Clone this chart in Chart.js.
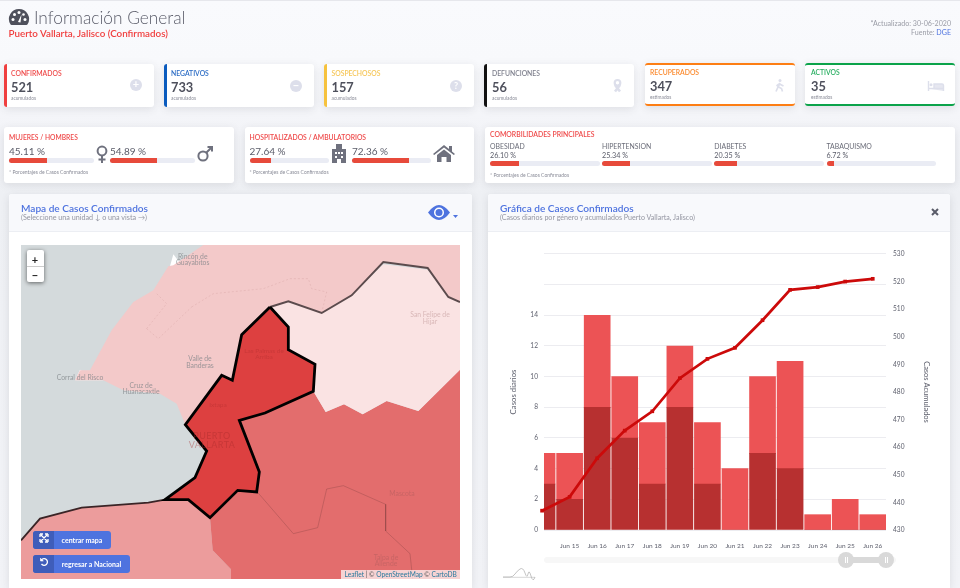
<!DOCTYPE html>
<html lang="es"><head><meta charset="utf-8">
<script src="https://cdn.jsdelivr.net/npm/chart.js@4"></script>
<style>
html,body{margin:0;padding:0;width:960px;height:588px;overflow:hidden}
body{position:relative;background:linear-gradient(#f9fafd 0,#f8f9fc 60px,#f3f4f8 130px,#eef0f4 195px,#f2f3f7 588px);font-family:Lato,"Noto Sans",sans-serif;color:#5a5c69;filter:blur(.3px)}
.t{position:absolute;white-space:nowrap;line-height:1;transform:translateY(-50%)}
.b{position:absolute;box-sizing:border-box}
.card{background:#fff;border-radius:3px;box-shadow:0 2px 9px rgba(58,59,69,.12)}
svg{position:absolute;overflow:visible}
canvas{position:absolute;display:block}
</style></head><body>
<div class="b" style="left:0;top:0;width:960px;height:1px;background:#e6e7ec"></div>
<canvas id="mapChart" width="439" height="334" style="left:21px;top:245px;width:439px;height:334px;z-index:2"></canvas>
<canvas id="mainChart" width="430" height="312" style="left:505px;top:243px;width:430px;height:312px;z-index:2"></canvas>
<script>
// ----- chart data -----
const dayNumbers=[14,15,16,17,18,19,20,21,22,23,24,25,26];
const dayLabels=["Jun 14","Jun 15","Jun 16","Jun 17","Jun 18","Jun 19","Jun 20","Jun 21","Jun 22","Jun 23","Jun 24","Jun 25","Jun 26"];
const casesLower=[3,2,8,6,3,8,3,0,5,4,0,0,0];
const casesUpper=[2,3,6,4,4,4,4,4,5,7,1,2,1];
const cumulative=[437,442,456,466,473,485,492,496,506,517,518,520,521];
const leftTickLimit=14;

// ----- summary data -----
const statTitles=["CONFIRMADOS","NEGATIVOS","SOSPECHOSOS","DEFUNCIONES","RECUPERADOS","ACTIVOS"];
const statValues=["521","733","157","56","347","35"];
const statNotes=["acumulados","acumulados","acumulados","acumulados","estimados","estimados"];
const pairTitles=["MUJERES / HOMBRES","HOSPITALIZADOS / AMBULATORIOS"];
const pairValues=[45.11,54.89,27.64,72.36];
const comorbNames=["OBESIDAD","HIPERTENSION","DIABETES","TABAQUISMO"];
const comorbValues=[26.10,25.34,20.35,6.72];

// ----- map regions, in map units -----
const regionNorth=[[610,164],[1380,164],[1380,335],[1345,320],[1283,233],[1150,215],[1055,315],[965,368],[865,333],[810,350],[725,433],[697,570],[665,555],[556,703],[530,640],[480,610],[370,600],[310,570],[225,570],[240,540],[270,540],[335,420],[400,335],[460,300],[505,228],[520,225],[610,164]];
const regionNorthEast=[[810,350],[865,333],[965,368],[1055,315],[1150,222],[1283,238],[1345,320],[1380,335],[1380,538],[1255,662],[1160,632],[1088,672],[1032,642],[977,665],[940,603],[945,522],[865,478],[865,410],[810,350]];
const regionSouthEast=[[718,690],[795,668],[940,603],[977,665],[1032,642],[1088,672],[1160,632],[1255,662],[1380,538],[1380,1166],[693,1166],[693,1137],[638,1080],[630,982],[713,900],[770,905],[778,845],[718,690]];
const regionSouthWest=[[495,928],[565,928],[630,982],[638,1080],[693,1137],[693,1166],[63,1166],[63,1050],[120,985],[245,952],[445,937],[495,928]];
const regionCentre=[[810,350],[865,410],[865,478],[945,522],[940,603],[795,668],[718,690],[778,845],[770,905],[713,900],[630,982],[565,928],[495,928],[585,862],[620,782],[556,703],[665,555],[697,570],[725,433],[810,350]];
const borderNorth=[[810,350],[865,333],[965,368],[1055,315],[1150,215],[1283,233],[1345,320],[1380,335]];
const borderSouth=[[63,1050],[120,985],[245,952],[445,937],[495,928]];
const innerBorder=[[772,905],[880,1030],[953,1012],[980,896],[1030,886],[1157,942],[1157,1022],[1230,1090],[1238,1166]];
const trail=[[575,350],[640,310],[790,295],[870,265],[925,265],[935,295],[980,305],[965,368]];
const trailWest=[[440,415],[500,340],[470,310]];
const trailSouth=[[440,415],[475,445],[575,350]];
const beachA=[[225,570],[240,538],[262,552],[310,570],[225,570]];
const beachB=[[520,192],[510,228],[545,225],[520,192]];

// ----- helpers for the surrounding page -----
function t(x,y,s,o={}){const e=document.createElement('div');e.className='t';e.textContent=s;
 e.style.left=x+'px';e.style.top=y+'px';e.style.fontSize=(o.s||8)+'px';e.style.color=o.c||'#5a5c69';
 e.style.fontWeight=o.w||400;e.style.zIndex=o.z||3;
 if(o.a==='r'){e.style.transform='translate(-100%,-50%)'}if(o.a==='c'){e.style.transform='translate(-50%,-50%)'}
 if(o.o)e.style.opacity=o.o;if(o.ls)e.style.letterSpacing=o.ls+'px';document.body.appendChild(e);return e}
function box(x,y,w,h,css){const e=document.createElement('div');e.className='b';e.style.cssText+=`left:${x}px;top:${y}px;width:${w}px;height:${h}px;${css||''}`;document.body.appendChild(e);return e}
function card(x,y,w,h,css){const e=box(x,y,w,h,css);e.classList.add('card');return e}
function icon(x,y,w,h,vb,inner){const n=document.createElementNS('http://www.w3.org/2000/svg','svg');n.setAttribute('viewBox',vb);n.setAttribute('width',w);n.setAttribute('height',h);n.style.left=x+'px';n.style.top=y+'px';n.style.zIndex=3;n.innerHTML=inner;document.body.appendChild(n);return n}
function bar(x,y,w,h,pct){box(x,y,w,h,'background:#eaecf4;border-radius:3px');box(x,y,w*pct/100,h,'background:#e74a3b;border-radius:3px 0 0 3px;z-index:1')}

const RED='#ef4a4a',ICON='#dddfeb',GREY='#6e707e';
// header
icon(9,9,20,17,'0 0 20 17','<path d="M10 0a10 10 0 0 0-8.700 15c.3.6 1 1 1.700 1h14c.7 0 1.400-.4 1.700-1A10 10 0 0 0 10 0z" fill="#4f515c"/><circle cx="4" cy="10.500" r="1.500" fill="#fff"/><circle cx="5.500" cy="5.500" r="1.500" fill="#fff"/><circle cx="16" cy="10.500" r="1.500" fill="#fff"/><circle cx="10" cy="3.500" r="1.500" fill="#fff"/><circle cx="14.500" cy="5.500" r="1.300" fill="#fff"/><path d="M9 13 L12.500 5.500 L11.500 13.500Z" fill="#fff"/>');
t(34,18,'Información General',{s:17.300,c:'#5a5c69',w:300});
t(8.500,33.500,'Puerto Vallarta, Jalisco (Confirmados)',{s:9.800,c:'#f03e3e',w:600});
t(951,23.500,'*Actualizado: 30-06-2020',{s:7.100,c:'#9a9ca6',a:'r'});
t(951,33,'',{s:7.100,c:'#9a9ca6',a:'r'}).innerHTML='Fuente: <span style="color:#4e73df">DGE</span>';

// row 1
const statX=[3.500,163.800,324,484,645,805.300];
const statTextX=[11,171,331.500,492,650,811];
const statColor=['#ef3f3f','#0a5bbe','#f6c23e','#111111','#fd7e14','#0ba34a'];
const statTitleColor=['#ef4a4a','#2a6bc4','#f6c657','#7d7f8c','#fb8a2e','#27ae60'];
statTitles.forEach((s,i)=>{
 const ring=i>=4;
 card(statX[i],ring?63:64,150,43,ring?`border-top:2px solid ${statColor[i]};border-bottom:2px solid ${statColor[i]}`:`border-left:3px solid ${statColor[i]}`);
 const dy=ring?-0.7:0;
 t(statTextX[i],72.500+dy,s,{s:6.800,c:statTitleColor[i],w:600});
 t(statTextX[i],87+dy,statValues[i],{s:12.800,c:'#4e505c',w:700});
 t(statTextX[i],98+dy,statNotes[i],{s:4.800,c:'#8a8c98'});
});
const glyph=(x,y,sym)=>{icon(x-6,y-6,12,12,'0 0 12 12',`<circle cx="6" cy="6" r="6" fill="${ICON}"/><text x="6" y="9.300" text-anchor="middle" font-size="${sym==='?'?9:11}" font-weight="700" fill="#fff" font-family="Lato">${sym}</text>`)};
glyph(135.500,85,'+');glyph(296,86,'−');glyph(456,86,'?');
icon(611,79,13,13,'0 0 13 13',`<path d="M4 12.500 L9 6 M9 12.500 L4 6" stroke="${ICON}" stroke-width="2.600"/><circle cx="6.500" cy="3.800" r="2.800" fill="none" stroke="${ICON}" stroke-width="2.200"/>`);
icon(775,79,9,13,'0 0 9 13',`<circle cx="5" cy="1.500" r="1.500" fill="${ICON}"/><path d="M5 4 L3 8 L1 12.500 M3.500 8 L6.500 9.500 L7.500 12.500 M4.500 5 L8.500 7 M4 5 L1.500 7" stroke="${ICON}" stroke-width="1.700" fill="none"/>`);
icon(928,81,16,10,'0 0 16 10',`<path d="M0.500 0v10M0.500 7.500h15v2.500M15.500 7.500V4.500q0-1.500-1.500-1.500H6v4.500" stroke="${ICON}" stroke-width="1.400" fill="${ICON}" fill-opacity=".75"/><circle cx="3" cy="3.800" r="1.500" fill="${ICON}"/>`);

// row 2: paired bars
card(4,127,229.500,55.500);card(244.500,127,229.500,55.500);card(485,127,470,55.500);
t(9,136.500,pairTitles[0],{s:6.700,c:RED,w:600});
t(249.500,136.500,pairTitles[1],{s:6.800,c:RED,w:600});
const pairX=[9,110,249.500,352],pairW=[85,85,79,79];
pairValues.forEach((v,i)=>{
 t(pairX[i],151,v.toFixed(2)+' %',{s:10,c:'#5a5c69'});
 bar(pairX[i],158.300,pairW[i],5,v);
});
const IC2='#6f717e';
icon(96,145,12,18,'0 0 12 18',`<circle cx="6" cy="6" r="4.400" fill="none" stroke="${IC2}" stroke-width="2"/><path d="M6 10.500V18M2.500 14.500h7" stroke="${IC2}" stroke-width="2"/>`);
icon(197,146,16,16,'0 0 16 16',`<circle cx="6" cy="10" r="4.600" fill="none" stroke="${IC2}" stroke-width="2"/><path d="M9.500 6.500L15 1M10.500 1H15V5.500" stroke="${IC2}" stroke-width="2" fill="none"/>`);
icon(331,144,16,19,'0 0 16 19',`<path d="M1 19V5h4V0h6v5h4v14H10v-4H6v4z" fill="${IC2}"/><rect x="4" y="8" width="2" height="2" fill="#fff"/><rect x="7" y="8" width="2" height="2" fill="#fff"/><rect x="10" y="8" width="2" height="2" fill="#fff"/><rect x="4" y="12" width="2" height="2" fill="#fff"/><rect x="10" y="12" width="2" height="2" fill="#fff"/>`);
icon(433,145,22,17,'0 0 22 17',`<path d="M0 9L11 0l5 4V1h3v5.500L22 9l-1.200 1L11 2.500 1.200 10z" fill="${IC2}"/><path d="M4 10l7-5.500 7 5.500v7h-4.500v-5h-5v5H4z" fill="${IC2}"/>`);
t(9,172,'* Porcentajes  de Casos Confirmados',{s:5,c:'#8a8c98'});
t(249.500,172,'* Porcentajes  de Casos Confirmados',{s:5,c:'#8a8c98'});
t(490,134,'COMORBILIDADES PRINCIPALES',{s:6.850,c:RED,w:600});
const comorbX=[490,602,714.300,826.500];
comorbNames.forEach((n,i)=>{
 t(comorbX[i],146,n,{s:6.900,c:'#6a6c78'});
 t(comorbX[i],155.500,comorbValues[i].toFixed(2)+' %',{s:7.200,c:'#5a5c69'});
 bar(comorbX[i],161.300,109.500,4.800,comorbValues[i]);
});
t(490,174.500,'* Porcentajes  de Casos Confirmados',{s:5,c:'#8a8c98'});

// panels
card(9,194,463,394,'border-radius:3px 3px 0 0');card(488,194,462,394,'border-radius:3px 3px 0 0');
box(9,194,463,38,'background:#f8f9fc;border-bottom:1px solid #eceef3;border-radius:3px 3px 0 0');
box(488,194,462,38,'background:#f8f9fc;border-bottom:1px solid #eceef3;border-radius:3px 3px 0 0');
t(21,208,'Mapa de Casos Confirmados',{s:10.100,c:'#4e73df',w:600});
t(21,218.300,'(Seleccione una unidad ↓ o una vista →)',{s:7.200,c:'#9496a2'});
t(500,208,'Gráfica de Casos Confirmados',{s:10.100,c:'#4e73df',w:600});
t(500,218.300,'(Casos diarios por género y acumulados Puerto Vallarta, Jalisco)',{s:7.100,c:'#9496a2'});
icon(428,204.500,22,15,'0 0 22 15','<path d="M0 7.500Q5.500 0 11 0t11 7.500Q16.500 15 11 15T0 7.500z" fill="#4e73df"/><circle cx="11" cy="7.500" r="5" fill="#fff"/><circle cx="11" cy="7.500" r="3.500" fill="#4e73df"/>');
icon(452.500,215,5,3,'0 0 5 3','<path d="M0 0h5L2.500 3z" fill="#4e73df"/>');
icon(931,208,8,8,'0 0 8 8','<path d="M1 1L7 7M7 1L1 7" stroke="#5a5c69" stroke-width="2"/>');

// map overlays
const L={c:'#7f8488',a:'c',o:.75,s:6.800};
[[192.700,256,'Rincón de'],[192.700,262,'Guayabitos'],[430,314.300,'San Felipe de'],[430,320.500,'Hijar'],[200,358,'Valle de'],[200,364.500,'Banderas'],[80,377,'Corral del Risco'],[141,384.500,'Cruz de'],[141,390.500,'Huanacaxtle'],[402,492.500,'Mascota'],[386,557,'Talpa de'],[386,563,'Allende']].forEach(a=>{
 const isFaint=a[0]>380;t(a[0],a[1],a[2],{...L,o:isFaint?.3:.75,c:isFaint?'#8a5050':'#7f8488'})});
[[264,350.500,'Las Palmas de'],[264,356.500,'Arriba'],[218,404.500,'Ixtapa']].forEach(a=>t(a[0],a[1],a[2],{c:'#a52a2a',a:'c',o:.35,s:6.500}));
t(212,434.500,'PUERTO',{c:'#a52a2a',a:'c',o:.4,s:9,ls:.4});t(212,444,'VALLARTA',{c:'#a52a2a',a:'c',o:.4,s:9,ls:.4});
box(27,250,16.500,32,'background:#fff;border-radius:2px;box-shadow:0 1px 4px rgba(0,0,0,.55);z-index:3');
box(27,266,16.500,.8,'background:#ccc;z-index:4');
t(35,258.500,'+',{s:11,c:'#222',w:700,a:'c',z:4});t(35,273.500,'−',{s:11,c:'#222',w:700,a:'c',z:4});
box(33,531,78,18,'background:#4e73df;border-radius:3px;z-index:3');box(33,531,21,18,'background:#3f5dba;border-radius:3px 0 0 3px;z-index:3');
box(33,555,97,18,'background:#4e73df;border-radius:3px;z-index:3');box(33,555,21,18,'background:#3f5dba;border-radius:3px 0 0 3px;z-index:3');
t(82,540,'centrar mapa',{s:7,c:'#fff',w:700,a:'c'});t(91.500,564,'regresar a Nacional',{s:7,c:'#fff',w:700,a:'c'});
icon(40,534,8,8,'0 0 8 8','<path d="M1 1L7 7M7 1L1 7M0 0h3M0 0v3M8 0H5M8 0v3M0 8h3M0 8V5M8 8H5M8 8V5" stroke="#fff" stroke-width="1.300"/>');
icon(40,558,8,8,'0 0 8 8','<path d="M1.500 2A3.300 3.300 0 1 1 1.500 6" stroke="#fff" stroke-width="1.300" fill="none"/><path d="M0.500 0v3h3" fill="#fff" stroke="#fff" stroke-width=".6"/>');
box(341,569.500,119,9.500,'background:rgba(255,255,255,.7);z-index:3');
const att=t(344.500,574.300,'',{s:6.600,c:'#555'});att.innerHTML='<span style="color:#2a7a9e">Leaflet</span> | © <span style="color:#2a7a9e">OpenStreetMap</span> © <span style="color:#2a7a9e">CartoDB</span>';

// range slider & mini icon below the chart
box(544,557,352,6,'background:#f7f7f7;border-radius:3px');
box(846,557,40,6,'background:#d9d9d9;z-index:2');
[846,886].forEach(x=>{box(x-8,552,16,16,'background:#d9d9d9;border-radius:50%;z-index:2');
 box(x-1.500,557,.7,6,'background:#fff;z-index:3');box(x+.8,557,.7,6,'background:#fff;z-index:3')});
icon(503,568,32,10,'0 0 32 10','<path d="M0 9h7q3 0 5-3t5-5 5 4 3 1 3 2 4 1" stroke="#aaa" stroke-width=".7" fill="none"/><path d="M0 9.300H32" stroke="#bbb" stroke-width=".6"/>');

// ----- chart -----
const asPts=(xs,ys)=>xs.map((x,i)=>({x,y:ys[i]}));
const TICK='#5f616e';
new Chart(document.getElementById('mainChart'),{
 data:{datasets:[
  {type:'line',label:'Casos acumulados',data:asPts(dayNumbers,cumulative),yAxisID:'y1',borderColor:'#cc0a0a',backgroundColor:'#cc0a0a',borderWidth:2.700,pointStyle:'rect',pointRadius:2.600,pointBorderWidth:0,tension:0,order:0,clip:{left:8,right:0,top:0,bottom:0}},
  {type:'bar',label:'Grupo 1',data:asPts(dayNumbers,casesLower),yAxisID:'y',backgroundColor:'#b73030',barThickness:26,order:1},
  {type:'bar',label:'Grupo 2',data:asPts(dayNumbers,casesUpper),yAxisID:'y',backgroundColor:'#ec5355',barThickness:26,order:2}
 ]},
 options:{responsive:false,animation:false,devicePixelRatio:1,
  layout:{padding:{top:3,left:0,right:0,bottom:0}},
  plugins:{legend:{display:false},tooltip:{enabled:false}},
  scales:{
   x:{type:'linear',stacked:true,min:14.07,max:26.48,offset:false,grid:{display:false},border:{display:false},
      afterFit:s=>{s.height=25},
      ticks:{stepSize:1,includeBounds:false,maxRotation:0,autoSkip:false,padding:4,color:TICK,font:{size:6.500,family:'Lato'},callback:v=>dayLabels[dayNumbers.indexOf(v)]||''}},
   y:{position:'left',stacked:true,min:0,max:18,afterFit:s=>{s.width=39},grid:{color:'#ececf0',lineWidth:1,drawTicks:false},border:{display:false},
      ticks:{stepSize:2,padding:6,color:TICK,font:{size:6.600,family:'Lato'},callback:v=>v<=leftTickLimit?v:''},
      title:{display:true,text:'Casos diarios',color:TICK,font:{size:7.800,family:'Lato'}}},
   y1:{position:'right',min:430,max:530,afterFit:s=>{s.width=49},grid:{display:false,drawTicks:false},border:{display:false},
      ticks:{stepSize:10,padding:7,color:TICK,font:{size:6.600,family:'Lato'}},
      title:{display:true,text:'Casos Acumulados',color:TICK,font:{size:7.500,family:'Lato'}}}
  }}
});

// ----- map, drawn as filled shapes on hidden scales -----
const toXY=a=>a.map(p=>({x:p[0],y:p[1]}));
const shape=(a,c,o)=>({type:'scatter',data:toXY(a),showLine:true,fill:'shape',backgroundColor:c,borderColor:'rgba(0,0,0,0)',borderWidth:0,pointRadius:0,...o});
const path=(a,c,w,o)=>({type:'scatter',data:toXY(a),showLine:true,fill:false,borderColor:c,borderWidth:w,pointRadius:0,...o});
new Chart(document.getElementById('mapChart'),{
 data:{datasets:[
  shape(regionCentre,'#dd4040',{borderColor:'#000',borderWidth:2.800,borderJoinStyle:'miter',order:0}),
  path(borderNorth,'#5b4b4d',2,{order:1}),
  path(borderSouth,'#3a2426',1.800,{order:1}),
  path(innerBorder,'rgba(90,45,45,.3)',.8,{order:2}),
  path(trail,'rgba(190,130,130,.35)',.6,{borderDash:[2,2],order:2}),
  path(trailWest,'rgba(190,130,130,.35)',.6,{borderDash:[2,2],order:2}),
  path(trailSouth,'rgba(190,130,130,.35)',.6,{borderDash:[2,2],order:2}),
  shape(regionNorthEast,'#fae3e3',{order:3}),
  shape(regionSouthEast,'#e36d6d',{order:3}),
  shape(regionSouthWest,'#ec9c9c',{order:3}),
  shape(regionNorth,'#f3c9c9',{order:4}),
  shape(beachA,'#ffffff',{order:5}),
  shape(beachB,'#ffffff',{order:5})
 ]},
 plugins:[{id:'sea',beforeDraw(c){const g=c.ctx;g.save();g.fillStyle='#d4dadc';g.fillRect(0,0,c.width,c.height);g.restore()}}],
 options:{responsive:false,animation:false,devicePixelRatio:1,layout:{padding:0},
  plugins:{legend:{display:false},tooltip:{enabled:false}},
  scales:{x:{type:'linear',display:false,min:63,max:1380},y:{type:'linear',display:false,min:164,max:1166,reverse:true}}}
});
</script>
</body></html>
